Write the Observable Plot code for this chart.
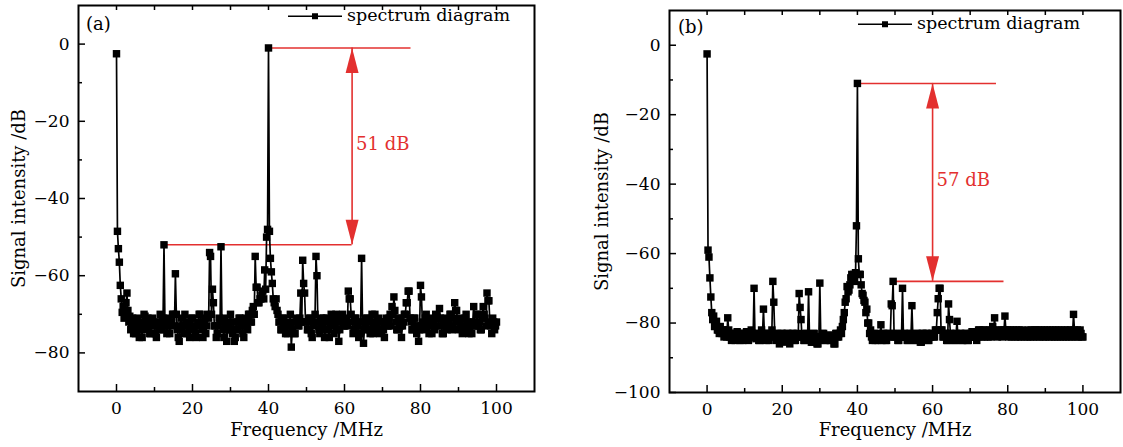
<!DOCTYPE html>
<html><head><meta charset="utf-8">
<script src="https://cdn.jsdelivr.net/npm/d3@7"></script>
<script src="https://cdn.jsdelivr.net/npm/@observablehq/plot@0.6"></script>
<style>
html,body{margin:0;padding:0;background:#fff;}
#wrap{position:relative;width:1123px;height:447px;overflow:hidden;font-family:"DejaVu Serif",serif;color:#000;}
.tag{position:absolute;font-size:18px;line-height:1;transform:translateY(-50%);white-space:nowrap;}
.legend{position:absolute;display:flex;align-items:center;font-size:17.5px;line-height:1;transform:translateY(-50%);white-space:nowrap;}
.legend span{margin-left:5px;}
</style></head><body><div id="wrap"></div>
<script>
// analyzer samples every 0.25 MHz, from 0 MHz to 100 MHz (401 samples, one row = 5 MHz)
const freqStep = 0.25;
// panel (a) signal intensity, dB
const sigA = [
 -2.5,-48.5,-53,-56.5,-62.5,-66,-69.5,-68,-71,-70,-67,-64.5,-69,-72,-70.5,-74,-73,-71,-75,-72,
 -75,-72,-71,-74,-76,-73,-74,-76,-72,-70,-70.5,-73,-74,-71,-72,-75,-75,-72,-71,-73,
 -73,-75,-76,-72,-72,-74,-70,-73,-74,-71,-52,-72,-73,-75,-71,-73,-75,-72,-72,-70,
 -70,-73,-59.5,-70,-74,-76,-77,-73,-71,-74,-73,-75,-70,-72,-75,-73,-72,-76,-74,-71,
 -71,-74,-73,-75,-76,-73,-72,-70,-70,-73,-74,-76,-72,-71,-75,-73,-70,-71,-54,-55,
 -70,-63.5,-67,-73,-73,-76,-75,-73,-71,-72,-52.5,-72,-74,-76,-71,-73,-77,-74,-73,-72,
 -70,-74,-75,-72,-77,-76,-72,-74,-74,-71,-71,-73,-73,-75,-76,-72,-71,-73,-74,-70,
 -70,-72,-72,-69,-68,-70,-55,-63,-63,-67,-67,-66,-66,-65,-64,-66,-58.5,-63.5,-50,-48,
 -1,-48.5,-55.5,-59,-62,-66,-67,-68,-66,-69,-70,-72,-72,-74,-74,-71,-71,-73,-75,-72,
 -75,-73,-73,-70,-78.5,-74,-72,-75,-75,-72,-71,-73,-73,-71,-64.5,-72,-56,-62,-64.5,-72,
 -72,-74,-74,-71,-71,-75,-76,-72,-73,-70,-55,-60,-72,-74,-75,-72,-71,-73,-71,-76,
 -74,-71,-72,-74,-76,-73,-70,-72,-73,-75,-71,-70,-74,-72,-77,-74,-72,-71,-70,-73,
 -73,-72,-71,-73,-64,-66,-66,-70,-72,-75,-74,-71,-71,-73,-73,-76,-75,-72,-55.5,-72,
 -77.5,-74,-73,-71,-71,-72,-74,-75,-72,-70,-75,-73,-70,-72,-73,-74,-71,-75,-74,-72,
 -72,-74,-76,-72,-71,-73,-73,-71,-70,-73,-68,-70,-65.5,-69,-72,-74,-74,-71,-71,-73,
 -76,-73,-72,-70,-70,-67,-67,-64,-64,-71,-72,-74,-74,-71,-71,-73,-75,-73,-77,-74,
 -62.5,-65.5,-72,-73,-74,-71,-70,-72,-73,-75,-71,-73,-75,-72,-72,-74,-70,-71,-71,-73,
 -68.5,-71,-73,-75,-75,-72,-71,-73,-74,-72,-72,-70,-70,-74,-73,-71,-67,-69,-69,-72,
 -74,-72,-71,-73,-75,-74,-73,-71,-70,-72,-74,-75,-72,-73,-75,-72,-68,-73,-73,-70,
 -70,-73,-72,-74,-74,-71,-68,-70,-71,-73,-64.5,-66.5,-66.5,-72,-73,-75,-71,-72,-74,-73,
 -72
];
// panel (b) signal intensity, dB
const sigB = [
 -2.5,-59,-61,-67,-72.5,-77,-79,-78,-81,-80,-79.5,-82,-82,-83,-81,-82,-83,-82,-84,-82,
 -83,-84,-78.5,-82,-84,-83,-85,-83,-83,-84,-85,-84,-82.5,-83,-84,-85,-83,-84,-85,-83,
 -84,-83,-82.5,-84,-85,-83,-84,-82,-83,-84,-70,-84,-84.5,-83,-83,-85,-85,-84,-82,-83,
 -76,-83,-84,-85,-83,-84,-85,-83,-84,-82,-68,-74,-83,-84,-85,-83,-84,-86,-84,-83,
 -83,-84,-85.5,-84,-84,-83,-83,-85,-86,-84,-84,-83,-83,-85,-85,-84,-83,-84,-71.5,-75.5,
 -79,-84,-84,-85,-85,-83,-83,-84,-71,-84,-84,-85.5,-85.5,-83,-83,-84,-84,-86,-86,-84,
 -68.5,-84,-84,-83,-83,-85,-85,-84,-84,-83.5,-83.5,-85,-85,-84,-84,-86,-86,-83,-83,-84,
 -84,-83,-82,-83,-81,-79,-77,-74,-73,-69.5,-71,-70.5,-69,-67,-66,-67,-66,-68,-65.5,-52,
 -11,-61.5,-66,-66,-69,-71.5,-72,-73.5,-74,-77,-76,-80,-80,-83,-82,-84,-85,-84,-83,-85,
 -83,-84,-85,-84,-84,-80.5,-85,-83,-83,-84,-85,-85,-83,-84,-83,-84,-74.5,-75,-68,-83,
 -84,-84,-83,-85,-85,-84,-84,-83,-70,-84,-83,-84,-84,-85,-85,-83,-83,-84,-75,-84,
 -84,-85,-85,-83,-83,-84,-84,-85.5,-85.5,-83,-83,-84,-84,-83,-83,-85,-85,-84,-84,-83,
 -83,-84,-84,-82,-82,-77,-73,-70,-70,-82,-82,-84,-84,-83,-83,-85,-85,-74.5,-79,-83,
 -83,-84,-84,-85,-85,-83,-79.5,-84,-84,-83,-83,-85,-85,-84,-84,-83,-83,-85,-85,-84,
 -84,-83,-82.5,-84,-84,-83,-83,-85,-84,-82,-82,-83,-84,-83,-82,-84,-82,-83,-83,-84,
 -83,-82,-84,-83,-81,-82,-78.5,-83,-83,-84,-82,-83,-83,-82,-84,-83,-82,-78,-82,-83,
 -82,-84,-83,-82,-84,-83,-82,-83,-84,-82,-83,-84,-82,-83,-84,-82,-83,-82.5,-84,-83,
 -83,-84,-82,-83,-84,-82,-83,-84,-83,-82,-82,-84,-83,-82,-84,-83,-82,-83,-84,-82,
 -84,-83,-82,-83,-84,-82,-83,-84,-82,-83,-84,-82,-83,-84,-82,-83,-84,-82,-83,-84,
 -83,-82,-84,-83,-82,-84,-83,-82,-84,-83,-77.5,-82,-84,-83,-82,-84,-83,-82,-83,-84,
 -84
];
if (sigA.length !== 401 || sigB.length !== 401) throw new Error("lengths " + sigA.length + " " + sigB.length);
const xTicks = [0, 20, 40, 60, 80, 100];
const xMinor = [10, 30, 50, 70, 90];
const yTicksA = [0, -20, -40, -60, -80];
const yMinorA = [-10, -30, -50, -70];
const yTicksB = [0, -20, -40, -60, -80, -100];
const yMinorB = [-10, -30, -50, -70, -90];
// reference levels (red horizontal lines)
const levelsA = [{f1: 40, f2: 77.5, v: -1}, {f1: 12.5, f2: 62, v: -52}];
const levelsB = [{f1: 40, f2: 77, v: -11}, {f1: 49.5, f2: 79, v: -68}];
// difference arrows
const gapA = [{f: 62, top: -1, bottom: -52, labelV: -26, label: "51 dB"}];
const gapB = [{f: 60, top: -11, bottom: -68, labelV: -39, label: "57 dB"}];

const RED = "#e3302f";
const fmt = d => d < 0 ? "\u2212" + (-d) : String(d);
const headUp = {draw(c){c.moveTo(0,0);c.lineTo(6.5,25);c.lineTo(-6.5,25);c.closePath();}};
const headDown = {draw(c){c.moveTo(0,0);c.lineTo(6.5,-25);c.lineTo(-6.5,-25);c.closePath();}};

function panel(o) {
  const pts = o.sig.map((v, i) => ({f: i * freqStep, v}));
  const svg = Plot.plot({
    width: o.width, height: 447,
    marginLeft: o.ml, marginRight: o.mr, marginTop: o.mt, marginBottom: o.mb,
    style: {fontFamily: "DejaVu Serif", fontSize: "17px", background: "transparent", color: "black", overflow: "visible"},
    x: {domain: [-10, 110]},
    y: {domain: o.yDomain},
    marks: [
      Plot.axisX({ticks: xTicks, tickSize: -7, tickPadding: 17, tickFormat: fmt, fontSize: 17, strokeWidth: 1.5, label: null}),
      Plot.axisX({ticks: xMinor, tickSize: -4, tickFormat: () => "", strokeWidth: 1.5, label: null}),
      Plot.axisX({anchor: "top", ticks: xTicks.concat(xMinor), tickSize: -4, tickFormat: () => "", strokeWidth: 1.5, label: null}),
      Plot.axisY({ticks: o.yTicks, tickSize: -7, tickPadding: 16, tickFormat: fmt, fontSize: 17, strokeWidth: 1.5, label: null}),
      Plot.axisY({ticks: o.yMinor, tickSize: -4, tickFormat: () => "", strokeWidth: 1.5, label: null}),
      Plot.ruleY(o.levels, {y: "v", x1: "f1", x2: "f2", stroke: RED, strokeWidth: 1.6}),
      Plot.ruleX(o.gap, {x: "f", y1: "bottom", y2: "top", stroke: RED, strokeWidth: 1.6}),
      Plot.dot(o.gap, {x: "f", y: "top", symbol: headUp, fill: RED, r: 1}),
      Plot.dot(o.gap, {x: "f", y: "bottom", symbol: headDown, fill: RED, r: 1}),
      Plot.text(o.gap, {x: "f", y: "labelV", text: "label", dx: 4, textAnchor: "start", fill: RED, fontSize: 18}),
      Plot.line(pts, {x: "f", y: "v", stroke: "black", strokeWidth: 1.7}),
      Plot.dot(pts, {x: "f", y: "v", symbol: "square", r: 4.2, fill: "black"}),
      Plot.text(["Frequency /MHz"], {text: d => d, frameAnchor: "bottom", lineAnchor: "middle", textAnchor: "middle", dy: o.xlDy, fontSize: 18}),
      Plot.text(["Signal intensity /dB"], {text: d => d, frameAnchor: "left", lineAnchor: "middle", textAnchor: "middle", dx: o.ylDx, rotate: -90, fontSize: 18}),
      Plot.frame({stroke: "black", strokeWidth: 2})
    ]
  });
  svg.style.position = "absolute";
  svg.style.left = o.left + "px";
  svg.style.top = "0px";
  return svg;
}

const wrap = document.getElementById("wrap");
wrap.appendChild(panel({sig: sigA, yDomain: [-90, 10], yTicks: yTicksA, yMinor: yMinorA, levels: levelsA, gap: gapA,
  width: 560, ml: 78, mr: 26, mt: 5, mb: 56, xlDy: 39, ylDx: -59, left: 0}));
wrap.appendChild(panel({sig: sigB, yDomain: [-100, 10], yTicks: yTicksB, yMinor: yMinorB, levels: levelsB, gap: gapB,
  width: 533, ml: 79, mr: 3, mt: 10, mb: 55, xlDy: 38, ylDx: -67, left: 590}));

function tag(txt, x, y) {
  const d = document.createElement("div");
  d.className = "tag"; d.textContent = txt;
  d.style.left = x + "px"; d.style.top = y + "px";
  wrap.appendChild(d);
}
function legend(x, y) {
  const d = document.createElement("div");
  d.className = "legend";
  d.style.left = x + "px"; d.style.top = y + "px";
  d.innerHTML = '<svg width="54" height="8"><line x1="0" x2="54" y1="4" y2="4" stroke="black" stroke-width="1.5"/><rect x="24" y="1" width="6" height="6" fill="black"/></svg><span>spectrum diagram</span>';
  wrap.appendChild(d);
}
tag("(a)", 86, 24);
tag("(b)", 678, 27);
legend(288, 16);
legend(858, 24);
</script></body></html>
